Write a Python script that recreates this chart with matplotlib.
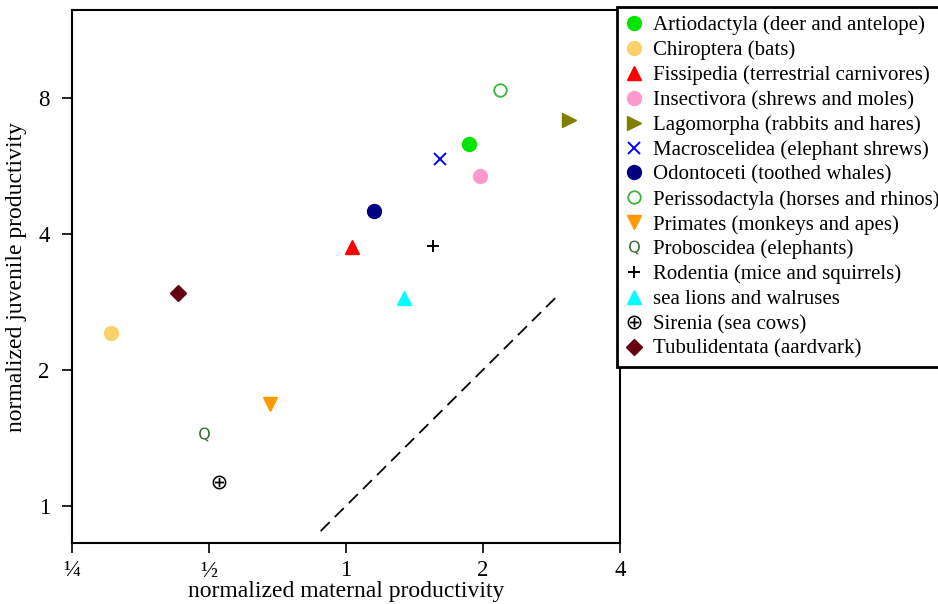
import matplotlib
matplotlib.use("Agg")
import matplotlib.pyplot as plt
from matplotlib.ticker import FixedLocator, NullLocator

plt.rcParams['font.family'] = ['Liberation Serif', 'DejaVu Serif']
plt.rcParams['mathtext.fontset'] = 'dejavusans'

# data (log2 axes)
labels = ['Artiodactyla (deer and antelope)', 'Chiroptera (bats)',
          'Fissipedia (terrestrial carnivores)', 'Insectivora (shrews and moles)',
          'Lagomorpha (rabbits and hares)', 'Macroscelidea (elephant shrews)',
          'Odontoceti (toothed whales)', 'Perissodactyla (horses and rhinos)',
          'Primates (monkeys and apes)', 'Proboscidea (elephants)',
          'Rodentia (mice and squirrels)', 'sea lions and walruses',
          'Sirenia (sea cows)', 'Tubulidentata (aardvark)']
maternal = [1.865, 0.304, 1.03, 1.97, 3.09, 1.61, 1.15, 2.18, 0.682, 0.488, 1.557, 1.34, 0.526, 0.428]
juvenile = [6.33, 2.41, 3.75, 5.36, 7.15, 5.86, 4.50, 8.32, 1.68, 1.44, 3.77, 2.89, 1.13, 2.96]

colors = ['#00e600', '#f9d26b', '#ff0000', '#ff99cc', '#808000', '#0000ff', '#000080',
          '#3cb43c', '#ff9900', '#2e6b2e', '#000000', '#00ffff', '#000000', '#660011']
markers = ['o', 'o', '^', 'o', '>', 'x', 'o', 'o', 'v', r'$\mathrm{Q}$', '+', '^', r'$\oplus$', 'D']
filled = [True, True, True, True, True, True, True, False, True, True, True, True, True, True]
sizes = [10, 10, 10, 10, 10, 8, 10, 9, 10, 10, 9, 10, 10, 8]

# y = x reference line
line_x = [0.88, 2.9]
line_y = [0.88, 2.9]

xticks = [0.25, 0.5, 1, 2, 4]
xticklabels = ['¼', '½', '1', '2', '4']
yticks = [1, 2, 4, 8]
yticklabels = ['1', '2', '4', '8']

fig = plt.figure(figsize=(9.38, 6.04), dpi=100)
ax = fig.add_axes([0.0768, 0.101, 0.584, 0.882])

for i in range(len(labels)):
    kw = dict(linestyle='none', marker=markers[i], markersize=sizes[i],
              color=colors[i], label=labels[i])
    if not filled[i]:
        kw['markerfacecolor'] = 'none'
        kw['markeredgewidth'] = 1.3
    if markers[i] in ('x', '+'):
        kw['markeredgewidth'] = 1.4
    if markers[i].startswith('$'):
        kw['markeredgewidth'] = 0
    ax.plot(maternal[i], juvenile[i], **kw)

ax.plot(line_x, line_y, linestyle=(0, (7, 4)), color='black', linewidth=1.3)

ax.set_xscale('log', base=2)
ax.set_yscale('log', base=2)
ax.set_xlim(0.25, 4)
ax.set_ylim(0.828, 12.5)
ax.xaxis.set_major_locator(FixedLocator(xticks))
ax.set_xticklabels(xticklabels)
ax.xaxis.set_minor_locator(NullLocator())
ax.yaxis.set_major_locator(FixedLocator(yticks))
ax.set_yticklabels(yticklabels)
ax.yaxis.set_minor_locator(NullLocator())
ax.tick_params(direction='out', length=7, width=1.2, labelsize=16.5)
ax.tick_params(axis='x', pad=5)
ax.tick_params(axis='y', pad=9)
for s in ax.spines.values():
    s.set_linewidth(1.5)

ax.set_xlabel('normalized maternal productivity', fontsize=17, labelpad=0)
ax.set_ylabel('normalized juvenile productivity', fontsize=17, labelpad=8)

leg = fig.legend(loc='upper left', bbox_to_anchor=(0.658, 0.988), fontsize=15,
                 frameon=True, fancybox=False, edgecolor='black', framealpha=1,
                 handlelength=0.8, handletextpad=0.5, labelspacing=0.25,
                 borderpad=0.4, borderaxespad=0, numpoints=1)
leg.get_frame().set_linewidth(2)

fig.savefig('out.png', dpi=100)
